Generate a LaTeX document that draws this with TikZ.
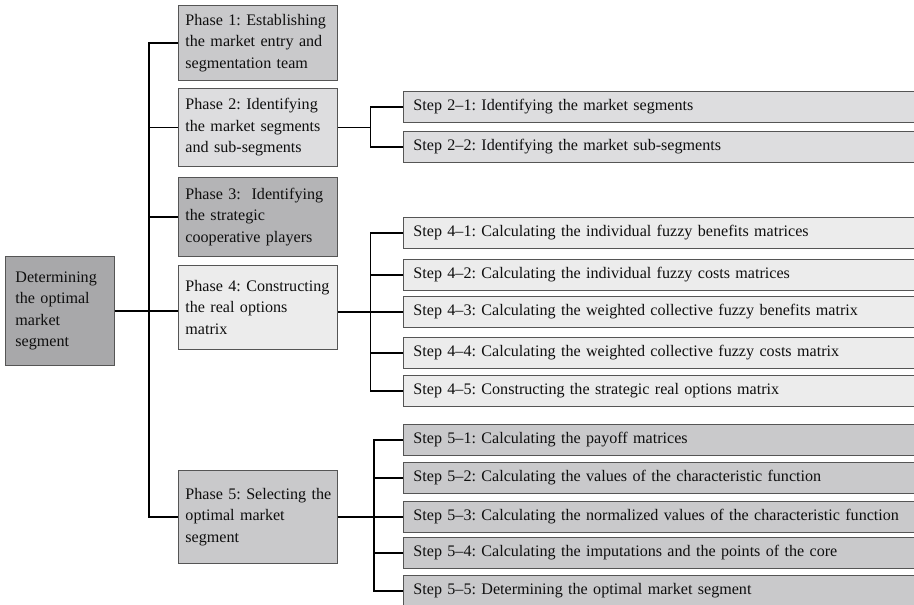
\documentclass[tikz,border=0pt]{standalone}
\usepackage{fontspec}
\setmainfont{Liberation Serif}
\newcommand\myboxfont{\fontsize{16.1}{21.5}\selectfont\frenchspacing\hyphenpenalty=10000\relax\exhyphenpenalty=10000\relax\hbadness=10000\relax\hfuzz=20pt\relax}
\definecolor{bord}{RGB}{85,85,85}
\definecolor{txt}{RGB}{15,15,15}
\definecolor{cRoot}{RGB}{168,168,170}
\definecolor{cDark}{RGB}{180,180,182}
\definecolor{cMid}{RGB}{201,201,203}
\definecolor{cLight}{RGB}{221,221,223}
\definecolor{cPale}{RGB}{236,236,236}
\tikzset{
  box/.style={draw=bord, line width=0.9pt, anchor=north west, inner ysep=0pt,
    align=left, text=txt, font=\myboxfont},
  phasebox/.style={box, inner xsep=7pt, text width=145pt, minimum height=#1},
  stepbox/.style={box, inner xsep=10pt, text width=520pt, minimum height=31pt},
  rootbox/.style={box, inner xsep=10pt, text width=89pt, minimum height=109pt},
  conn/.style={line width=1.4pt, black}
}
\begin{document}
\begin{tikzpicture}[x=1pt,y=-1pt]
\useasboundingbox (0,0) rectangle (914,605);
\fill[white] (0,0) rectangle (914,605);
% root
\node[rootbox, fill=cRoot] (root) at (5,256) {Determining\\the~optimal\\market\\segment};
% phases
\node[phasebox=75pt, fill=cMid] (p1) at (178,5) {Phase~1:~Establishing\\the~market~entry~and\\segmentation~team};
\node[phasebox=78pt, fill=cLight] (p2) at (178,88) {Phase~2:~Identifying\\the~market~segments\\and~sub-segments};
\node[phasebox=79pt, fill=cDark] (p3) at (178,177) {Phase~3:~~Identifying\\the~strategic\\cooperative~players};
\node[phasebox=84pt, fill=cPale] (p4) at (178,265) {Phase~4:~Constructing\\the~real~options\\matrix};
\node[phasebox=93pt, fill=cMid] (p5) at (178,470) {Phase~5:~Selecting~the\\optimal~market\\segment};
% steps phase 2
\node[stepbox, fill=cLight] (s21) at (403,91) {Step 2–1: Identifying the market segments};
\node[stepbox, fill=cLight] (s22) at (403,131) {Step 2–2: Identifying the market sub-segments};
% steps phase 4
\node[stepbox, fill=cPale] (s41) at (403,217) {Step 4–1: Calculating the individual fuzzy benefits matrices};
\node[stepbox, fill=cPale] (s42) at (403,259) {Step 4–2: Calculating the individual fuzzy costs matrices};
\node[stepbox, fill=cPale] (s43) at (403,296) {Step 4–3: Calculating the weighted collective fuzzy benefits matrix};
\node[stepbox, fill=cPale] (s44) at (403,337) {Step 4–4: Calculating the weighted collective fuzzy costs matrix};
\node[stepbox, fill=cPale] (s45) at (403,375) {Step 4–5: Constructing the strategic real options matrix};
% steps phase 5
\node[stepbox, fill=cMid] (s51) at (403,424) {Step 5–1: Calculating the payoff matrices};
\node[stepbox, fill=cMid] (s52) at (403,462) {Step 5–2: Calculating the values of the characteristic function};
\node[stepbox, fill=cMid] (s53) at (403,501) {Step 5–3: Calculating the normalized values of the characteristic function};
\node[stepbox, fill=cMid] (s54) at (403,537) {Step 5–4: Calculating the imputations and the points of the core};
\node[stepbox, fill=cMid] (s55) at (403,575) {Step 5–5: Determining the optimal market segment};
% trunk coordinates
\coordinate (t) at (149,0);
\coordinate (u2) at (370.7,0);
\coordinate (u4) at (370.7,0);
\coordinate (u5) at (374,0);
% main connectors
\draw[conn] (root.east) -- (root.east -| p4.west);
\draw[conn] (p1.west) -- (p1.west -| t) -- (p5.west -| t) -- (p5.west);
\draw[conn] (p2.west) -- (p2.west -| t);
\draw[conn] (p3.west) -- (p3.west -| t);
% phase 2
\draw[conn] (p2.east) -- (p2.east -| u2);
\draw[conn] (s21.west) -- (s21.west -| u2) -- (s22.west -| u2) -- (s22.west);
% phase 4
\draw[conn] (p4.east |- s43.west) -- (s43.west);
\draw[conn] (s41.west) -- (s41.west -| u4) -- (s45.west -| u4) -- (s45.west);
\draw[conn] (s42.west) -- (s42.west -| u4);
\draw[conn] (s44.west) -- (s44.west -| u4);
% phase 5
\draw[conn] (p5.east) -- (s53.west);
\draw[conn] (s51.west) -- (s51.west -| u5) -- (s55.west -| u5) -- (s55.west);
\draw[conn] (s52.west) -- (s52.west -| u5);
\draw[conn] (s54.west) -- (s54.west -| u5);
\end{tikzpicture}
\end{document}
